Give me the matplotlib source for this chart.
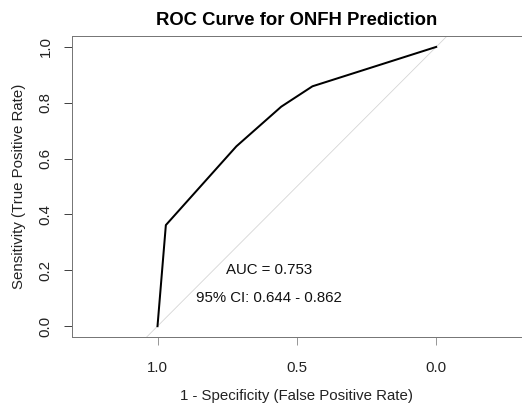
import matplotlib
matplotlib.use('Agg')
import matplotlib.pyplot as plt

plt.rcParams['font.family'] = ['Liberation Sans', 'DejaVu Sans']

# ROC points (specificity, sensitivity)
specificity = [1.0, 0.970, 0.717, 0.556, 0.444, 0.0]
sensitivity = [0.0, 0.362, 0.644, 0.786, 0.859, 1.0]
x_ticks = [1.0, 0.5, 0.0]
y_ticks = [0.0, 0.2, 0.4, 0.6, 0.8, 1.0]
auc_text = 'AUC = 0.753'
ci_text = '95% CI: 0.644 - 0.862'

fs = 15

fig = plt.figure(figsize=(522 / 72, 404 / 72), dpi=72)
ax = fig.add_axes([0.1373, 0.165, 0.8627, 0.7465])

ax.axline((1, 0), (0, 1), color='#d4d4d4', lw=0.8)
ax.plot(specificity, sensitivity, color='black', lw=2, solid_joinstyle='round')

ax.set_xlim(1.308, -0.308)
ax.set_ylim(-0.04, 1.04)

ax.set_xticks(x_ticks)
ax.set_xticklabels(['1.0', '0.5', '0.0'])
ax.set_yticks(y_ticks)
ax.set_yticklabels([f'{v:.1f}' for v in y_ticks], rotation=90, va='center')
ax.tick_params(axis='both', direction='out', length=8, width=1, colors='#444444',
               labelcolor='#222222', labelsize=fs)
ax.tick_params(axis='x', pad=16, color='#999999')
ax.tick_params(axis='y', pad=11)

for s in ax.spines.values():
    s.set_color('#777777')
    s.set_linewidth(1)

ax.text(0.6, 0.2, auc_text, ha='center', va='center', fontsize=fs, color='#111111')
ax.text(0.6, 0.1, ci_text, ha='center', va='center', fontsize=fs, color='#111111')

ax.set_xlabel('1 - Specificity (False Positive Rate)', fontsize=fs, color='#222222', labelpad=14)
ax.set_ylabel('Sensitivity (True Positive Rate)', fontsize=fs, color='#222222', labelpad=13)
ax.set_title('ROC Curve for ONFH Prediction', fontsize=18.5, fontweight='bold', pad=11)

fig.savefig('out.png', dpi=72)
